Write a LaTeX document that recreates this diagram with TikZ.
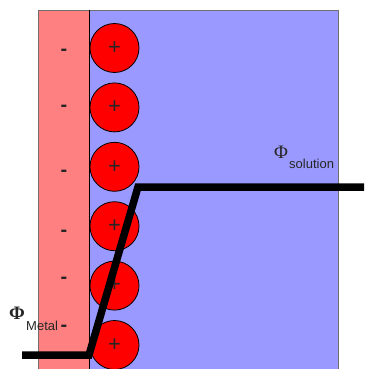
\documentclass[tikz,border=0pt]{standalone}
\usepackage{fontspec}
\setmainfont{Liberation Sans}
\newfontfamily\phifont{Liberation Serif}
\usetikzlibrary{positioning}
\definecolor{ink}{HTML}{262626}
\definecolor{metal}{HTML}{FF8080}
\definecolor{soln}{HTML}{9999FF}
\definecolor{ion}{HTML}{FF0000}
\definecolor{edge}{HTML}{707070}
\tikzset{
  ionball/.style={circle, draw=black, line width=0.8pt, fill=ion, minimum size=49pt,
    inner sep=0pt, font=\fontsize{22}{22}\selectfont, text=ink},
  neg/.style={font=\bfseries\fontsize{20}{20}\selectfont, text=ink, inner sep=0pt},
  pot/.style={line width=7.5pt, line join=miter, color=black},
  phi/.style={font=\phifont\fontsize{19}{19}\selectfont, text=ink, inner sep=0pt},
  sub/.style={font=\fontsize{13}{13}\selectfont, text=ink, inner sep=0pt},
}
\begin{document}
\begin{tikzpicture}[x=1pt,y=-1pt]
  \useasboundingbox (0,0) rectangle (364,369);
  % metal and solution
  \fill[metal] (38,10) rectangle (89,369);
  \fill[soln] (89,10) rectangle (338,369);
  \draw[edge, line width=0.6pt] (38,369) -- (38,10) -- (338,10) -- (338,369);
  \draw[black, line width=1pt] (89,10) -- (89,369);
  % charges
  \foreach \i in {0,...,5} {
    \node[ionball] (ion\i) at (114.5,48+59.4*\i) {+};
  }
  \foreach \y [count=\i] in {52,108,173,233,280,328} {
    \node[neg] (neg\i) at (64,\y) {-};
  }
  % potential profile
  \coordinate (mL) at (22,355);
  \coordinate (mR) at (89,355);
  \coordinate (sL) at (138,187);
  \coordinate (sR) at (364,187);
  \draw[pot] (mL) -- (mR) -- (sL) -- (sR);
  % labels
  \node[phi, font=\phifont\bfseries\fontsize{19}{19}\selectfont] (phiM) at (17,313) {Φ};
  \node[sub, anchor=west] (subM) at (26,326) {Metal};
  \node[phi] (phiS) at (281,152) {Φ};
  \node[sub, anchor=west] (subS) at (289,164) {solution};
\end{tikzpicture}
\end{document}
